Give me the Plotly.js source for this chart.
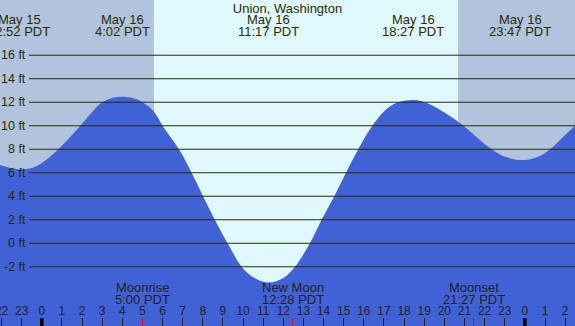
<!DOCTYPE html>
<html>
<head>
<meta charset="utf-8">
<script src="https://cdn.plot.ly/plotly-3.0.1.min.js"></script>
<style>html,body{margin:0;padding:0;background:#fff;}#chart{width:575px;height:326px;}</style>
</head>
<body>
<div id="chart"></div>
<script>
// Hours relative to May 16 00:00 PDT, heights in ft
const tideHours   = [-2.077, -1.41, -0.83, -0.25, 0.41, 0.82, 1.24, 1.90, 2.39, 2.89, 3.39, 4.05, 4.71, 5.04, 5.54, 6.04, 6.87, 7.45, 8.02, 8.60, 9.23, 9.93, 10.51, 11.25, 12.00, 12.58, 13.32, 13.90, 14.53, 15.11, 15.72, 16.42, 17.05, 17.63, 18.46, 19.20, 20.03, 21.02, 21.68, 22.35, 23.01, 23.84, 24.67, 25.25, 25.91, 26.49];
const tideHeights = [6.66, 6.37, 6.29, 6.57, 7.37, 7.99, 8.73, 9.97, 10.95, 11.85, 12.3, 12.46, 12.25, 11.95, 11.25, 9.9, 7.85, 5.98, 3.99, 1.98, 0.0, -2.0, -2.9, -3.34, -2.95, -2.0, 0.0, 2.0, 4.0, 6.0, 8.0, 10.0, 11.3, 11.95, 12.2, 11.9, 11.1, 9.9, 8.92, 8.0, 7.37, 7.08, 7.37, 8.0, 9.07, 10.0];

const extremeHours = [-1.13, 4.03, 11.28, 18.45, 23.78];
const extremeDates = ["May 15", "May 16", "May 16", "May 16", "May 16"];
const extremeTimes = ["22:52 PDT", "4:02 PDT", "11:17 PDT", "18:27 PDT", "23:47 PDT"];

const sunrise = 5.57, sunset = 20.68;
const xStart = -2.077, xEnd = 26.49;

const moonHours = [5.0, 12.47, 21.45];
const moonNames = ["Moonrise", "New Moon", "Moonset"];
const moonTimes = ["5:00 PDT", "12:28 PDT", "21:27 PDT"];

const yTicks = [-2, 0, 2, 4, 6, 8, 10, 12, 14, 16];
const hourTicks = [];
for (let h = -2; h <= 26; h++) hourTicks.push(h);
const hourLabels = hourTicks.map(h => String(((h % 24) + 24) % 24));
const midnightHours = [0, 24];

const nightColor = "#B0C4DE", dayColor = "#E0F8FF", waterColor = "#4161D6";
const textColor = "#2b2b00", gridColor = "#2b2b00";
const FONT = "Liberation Sans, Arial, sans-serif";

const traces = [
  {x: [xStart - 1, xEnd + 1], y: [-12, -12], mode: "lines", line: {width: 0}, hoverinfo: "skip", showlegend: false},
  {x: tideHours, y: tideHeights, mode: "lines", line: {width: 0, shape: "spline", smoothing: 1}, fill: "tonexty", fillcolor: waterColor, hoverinfo: "skip", showlegend: false}
];

const shapes = [
  {type: "rect", xref: "x", yref: "paper", x0: xStart - 1, x1: sunrise, y0: 0, y1: 1, fillcolor: nightColor, line: {width: 0}, layer: "below"},
  {type: "rect", xref: "x", yref: "paper", x0: sunrise, x1: sunset, y0: 0, y1: 1, fillcolor: dayColor, line: {width: 0}, layer: "below"},
  {type: "rect", xref: "x", yref: "paper", x0: sunset, x1: xEnd + 1, y0: 0, y1: 1, fillcolor: nightColor, line: {width: 0}, layer: "below"}
];
yTicks.forEach(v => shapes.push({type: "line", xref: "paper", yref: "y", x0: 29 / 575, x1: 1, y0: v, y1: v, line: {color: gridColor, width: 1}, layer: "above"}));
midnightHours.forEach(h => shapes.push({type: "line", xref: "x", yref: "paper", x0: h, x1: h, y0: 0, y1: 8 / 326, line: {color: "#000", width: 3.5}, layer: "above"}));
moonHours.forEach(h => shapes.push({type: "line", xref: "x", yref: "paper", x0: h, x1: h, y0: 0, y1: 8 / 326, line: {color: "#ff0000", width: 1}, layer: "above"}));

const annotations = [];
yTicks.forEach(v => annotations.push({xref: "paper", yref: "y", x: 28 / 575, y: v, xanchor: "right", yanchor: "middle", text: v + " ft", showarrow: false, font: {family: FONT, size: 12.5, color: textColor}}));
extremeHours.forEach((h, i) => {
  annotations.push({xref: "x", yref: "paper", x: h, y: 1 - 20 / 326, xanchor: "center", yanchor: "middle", text: extremeDates[i], showarrow: false, font: {family: FONT, size: 13, color: textColor}});
  annotations.push({xref: "x", yref: "paper", x: h, y: 1 - 32 / 326, xanchor: "center", yanchor: "middle", text: extremeTimes[i], showarrow: false, font: {family: FONT, size: 13, color: textColor}});
});
moonHours.forEach((h, i) => {
  annotations.push({xref: "x", yref: "paper", x: h, y: 1 - 287.5 / 326, xanchor: "center", yanchor: "middle", text: moonNames[i], showarrow: false, font: {family: FONT, size: 13, color: "#222"}});
  annotations.push({xref: "x", yref: "paper", x: h, y: 1 - 299.5 / 326, xanchor: "center", yanchor: "middle", text: moonTimes[i], showarrow: false, font: {family: FONT, size: 13, color: "#222"}});
});

const layout = {
  width: 575, height: 326,
  margin: {l: 0, r: 0, t: 0, b: 0, pad: 0},
  paper_bgcolor: nightColor, plot_bgcolor: nightColor,
  title: {text: "Union, Washington", x: 0.5, xanchor: "center", y: 1 - 8 / 326, yanchor: "middle", font: {family: FONT, size: 13, color: textColor}},
  xaxis: {range: [xStart, xEnd], showgrid: false, zeroline: false, showline: false,
    tickmode: "array", tickvals: hourTicks, ticktext: hourLabels,
    ticks: "inside", ticklen: 8, tickwidth: 1, tickcolor: "#222",
    ticklabelposition: "inside", ticklabeloverflow: "allow",
    tickfont: {family: FONT, size: 12, color: "#222"}, fixedrange: true},
  yaxis: {range: [-7.04, 20.7], visible: false, fixedrange: true},
  shapes: shapes,
  annotations: annotations,
  showlegend: false
};

Plotly.newPlot("chart", traces, layout, {staticPlot: true, displayModeBar: false});
</script>
</body>
</html>
